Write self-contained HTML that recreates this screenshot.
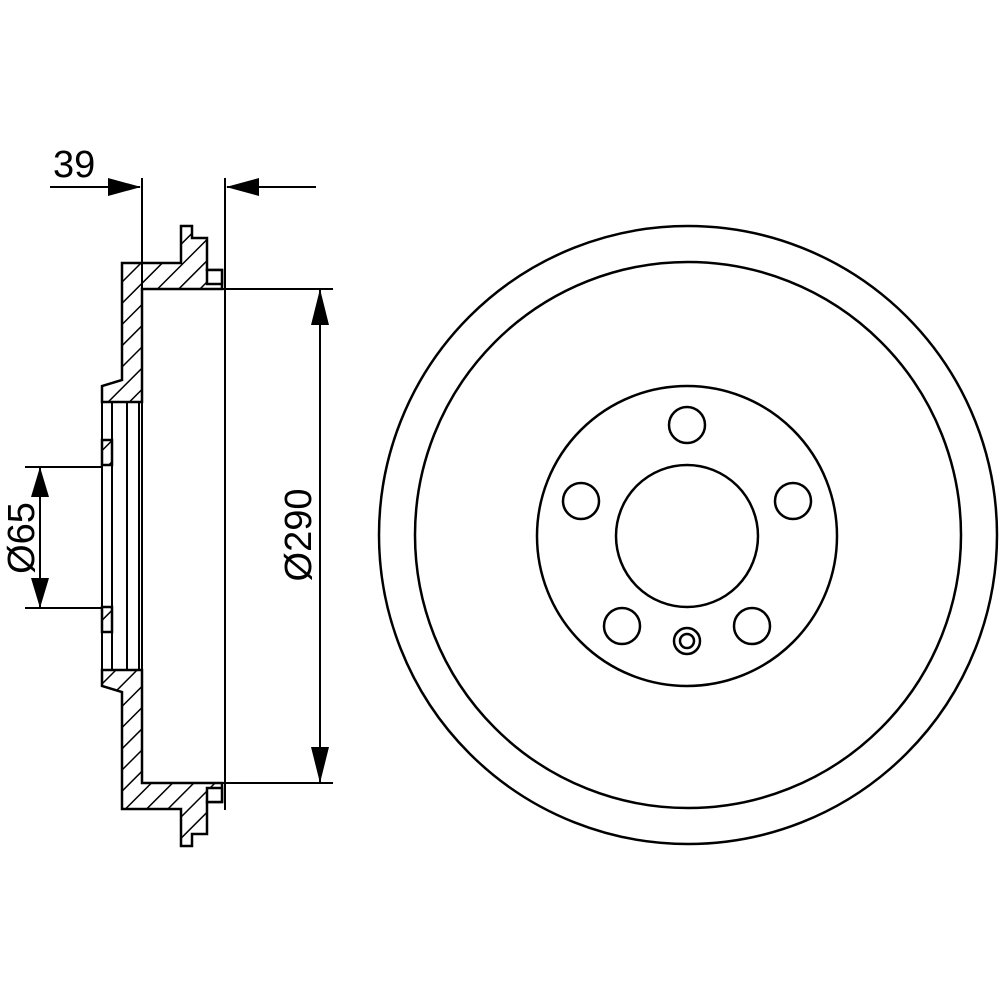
<!DOCTYPE html>
<html><head><meta charset="utf-8"><style>html,body{margin:0;padding:0;background:#fff}svg{display:block}</style></head>
<body>
<svg width="1000" height="1000" viewBox="0 0 1000 1000" xmlns="http://www.w3.org/2000/svg">
<defs>
<pattern id="h" patternUnits="userSpaceOnUse" width="15" height="15" patternTransform="rotate(45)">
<line x1="0" y1="0" x2="0" y2="15" stroke="#000" stroke-width="3"/>
</pattern>
</defs>
<g stroke="#000" stroke-width="2.5" fill="url(#h)" stroke-linejoin="miter">
<polygon points="122,263 181,263 181,226 192,226 192,238 207,238 207,270 222,270 222,289 142,289 142,402 102,402 102,386 122,380"/>
<polygon points="122,809 181,809 181,846 192,846 192,834 207,834 207,802 222,802 222,783 142,783 142,670 102,670 102,686 122,692"/>
<rect x="102" y="440" width="10" height="25"/>
<rect x="102" y="607" width="10" height="25"/>
</g>
<g stroke="#000" stroke-width="2.5" fill="#fff">
<rect x="207" y="270" width="15" height="14"/>
<rect x="207" y="788" width="15" height="14"/>
</g>
<g stroke="#000" stroke-width="2" fill="none">
<line x1="102" y1="402" x2="102" y2="670"/>
<line x1="112" y1="402" x2="112" y2="670"/>
<line x1="127" y1="402" x2="127" y2="670"/>
<line x1="139" y1="402" x2="139" y2="670"/>
<line x1="142" y1="178" x2="142" y2="783"/>
<line x1="225" y1="178" x2="225" y2="810"/>
<line x1="222" y1="289" x2="333" y2="289"/>
<line x1="222" y1="783" x2="333" y2="783"/>
<line x1="320" y1="289" x2="320" y2="783"/>
<line x1="25" y1="467" x2="102" y2="467"/>
<line x1="25" y1="608" x2="102" y2="608"/>
<line x1="40" y1="467" x2="40" y2="608"/>
<line x1="50" y1="187" x2="140" y2="187"/>
<line x1="227" y1="187" x2="316" y2="187"/>
</g>
<g fill="#000">
<polygon points="320,289 311,325 329,325"/>
<polygon points="320,783 311,747 329,747"/>
<polygon points="40,467 31,497 49,497"/>
<polygon points="40,608 31,578 49,578"/>
<polygon points="141,187 108,178 108,196"/>
<polygon points="226,187 259,178 259,196"/>
</g>
<g font-family="Liberation Sans, sans-serif" font-size="38" fill="#000">
<text x="53" y="177">39</text>
<text transform="translate(311,535) rotate(-90)" text-anchor="middle">Ø290</text>
<text transform="translate(34,538) rotate(-90)" text-anchor="middle">Ø65</text>
</g>
<g stroke="#000" stroke-width="2.5" fill="none">
<circle cx="688" cy="535" r="309"/>
<circle cx="688" cy="535" r="273"/>
<circle cx="687" cy="536" r="150"/>
<circle cx="687" cy="536" r="71"/>
<circle cx="687" cy="425" r="18"/>
<circle cx="581" cy="501" r="18"/>
<circle cx="793" cy="501" r="18"/>
<circle cx="622" cy="626" r="18"/>
<circle cx="752" cy="626" r="18"/>
<circle cx="687" cy="641" r="13"/>
<circle cx="687" cy="641" r="7"/>
</g>
</svg>
</body></html>
